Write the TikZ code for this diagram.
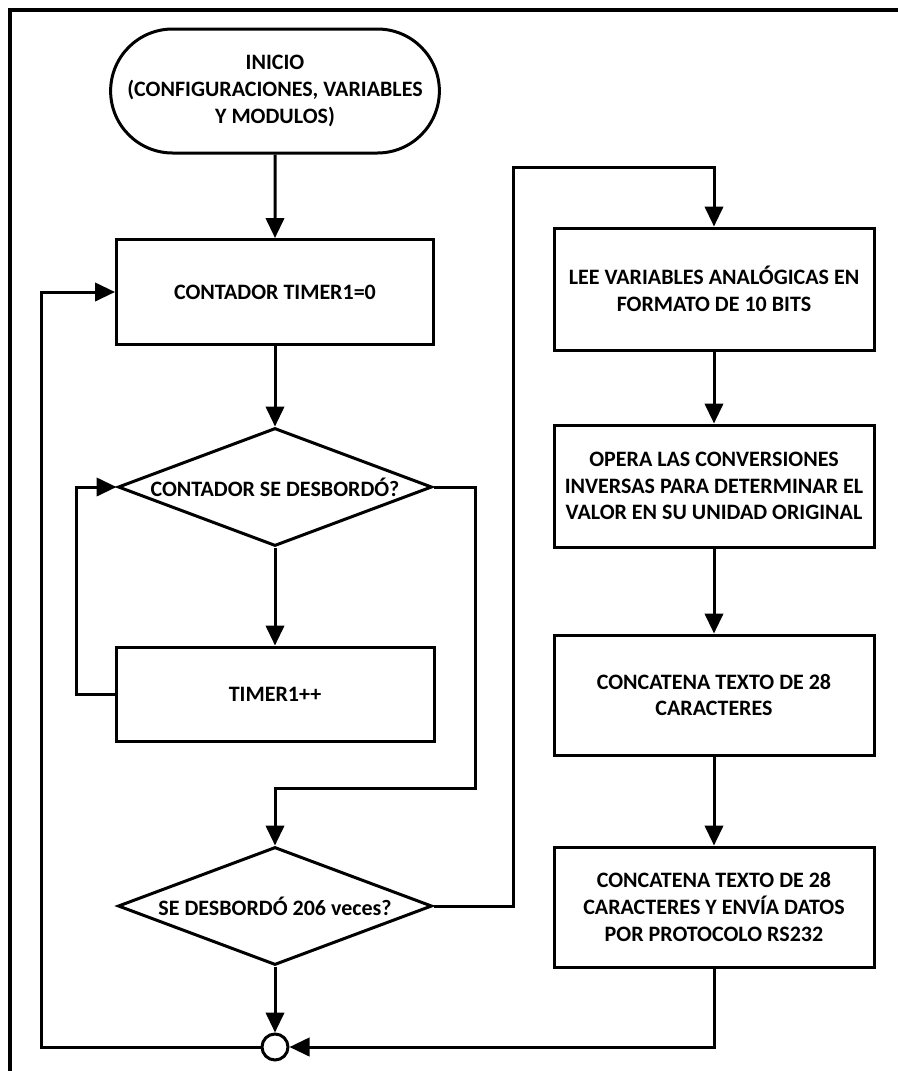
\documentclass[tikz,border=0pt]{standalone}
\usepackage{fontspec}
\setmainfont{Carlito}
\usetikzlibrary{arrows.meta,shapes.geometric,shapes.misc}

\tikzset{
  linea/.style={line width=1.8pt},
  flecha/.style={linea, -{Triangle[length=12pt,width=11pt]}},
  texto/.style={font=\bfseries\fontsize{13.2}{16}\selectfont, align=center},
  proceso/.style={draw, linea, rectangle, texto, inner sep=0pt},
  decision/.style={draw, linea, diamond, aspect=2.66, texto, inner sep=0pt,
    minimum width=314*0.6pt, minimum height=118*0.6pt},
  terminal/.style={draw, linea, rounded rectangle, texto},
  union/.style={draw, linea, circle, inner sep=0pt, minimum size=26*0.6pt}
}

\begin{document}
\begin{tikzpicture}[x=0.6pt, y=-0.6pt]
		\useasboundingbox (0,0) rectangle (898,1071);

		%%% Marco
		\draw[line width=2pt] (10,1090) -- (10,10) -- (920,10);

		%%% Columna izquierda
		\node[terminal, minimum width=315*0.6pt, minimum height=124*0.6pt] (inicio) at (275,91)
			{INICIO\\(CONFIGURACIONES, VARIABLES\\Y MODULOS)};
		\node[proceso, minimum width=317*0.6pt, minimum height=105*0.6pt] (cero) at (275,292) {CONTADOR TIMER1=0};
		\node[decision] (desb) at (275,487) {CONTADOR SE DESBORDÓ?};
		\node[proceso, minimum width=318*0.6pt, minimum height=94*0.6pt] (inc) at (275,694) {TIMER1++};
		\node[decision] (veces) at (275,906) {SE DESBORDÓ 206 veces?};
		\node[union] (junta) at (275,1047) {};

		%%% Columna derecha
		\node[proceso, minimum width=320*0.6pt, minimum height=122*0.6pt] (lee) at (714,289)
			{LEE VARIABLES ANALÓGICAS EN\\FORMATO DE 10 BITS};
		\node[proceso, minimum width=320*0.6pt, minimum height=122*0.6pt] (opera) at (714,486)
			{OPERA LAS CONVERSIONES\\INVERSAS PARA DETERMINAR EL\\VALOR EN SU UNIDAD ORIGINAL};
		\node[proceso, minimum width=320*0.6pt, minimum height=120*0.6pt] (concat) at (714,695)
			{CONCATENA TEXTO DE 28\\CARACTERES};
		\node[proceso, minimum width=320*0.6pt, minimum height=120*0.6pt] (envia) at (714,907)
			{CONCATENA TEXTO DE 28\\CARACTERES Y ENVÍA DATOS\\POR PROTOCOLO RS232};

		%%% Puntos de quiebre
		\coordinate (c1) at (475,788);
		\coordinate (c2) at (513,167);
		\coordinate (c3) at (41,1047);

		%%% Flechas
		\draw[flecha] (inicio) -- (cero);
		\draw[flecha] (cero) -- (desb);
		\draw[flecha] (desb) -- (inc);
		\draw[flecha] (inc.west) -- ++(-38,0) |- (desb.west);
		\draw[flecha] (desb.east) -| (c1) -| (veces.north);
		\draw[flecha] (veces.east) -| (c2) -| (lee.north);
		\draw[flecha] (lee) -- (opera);
		\draw[flecha] (opera) -- (concat);
		\draw[flecha] (concat) -- (envia);
		\draw[flecha] (envia.south) |- (junta.east);
		\draw[flecha] (veces) -- (junta);
		\draw[flecha] (junta.west) -- (c3) |- (cero.west);
\end{tikzpicture}
\end{document}
